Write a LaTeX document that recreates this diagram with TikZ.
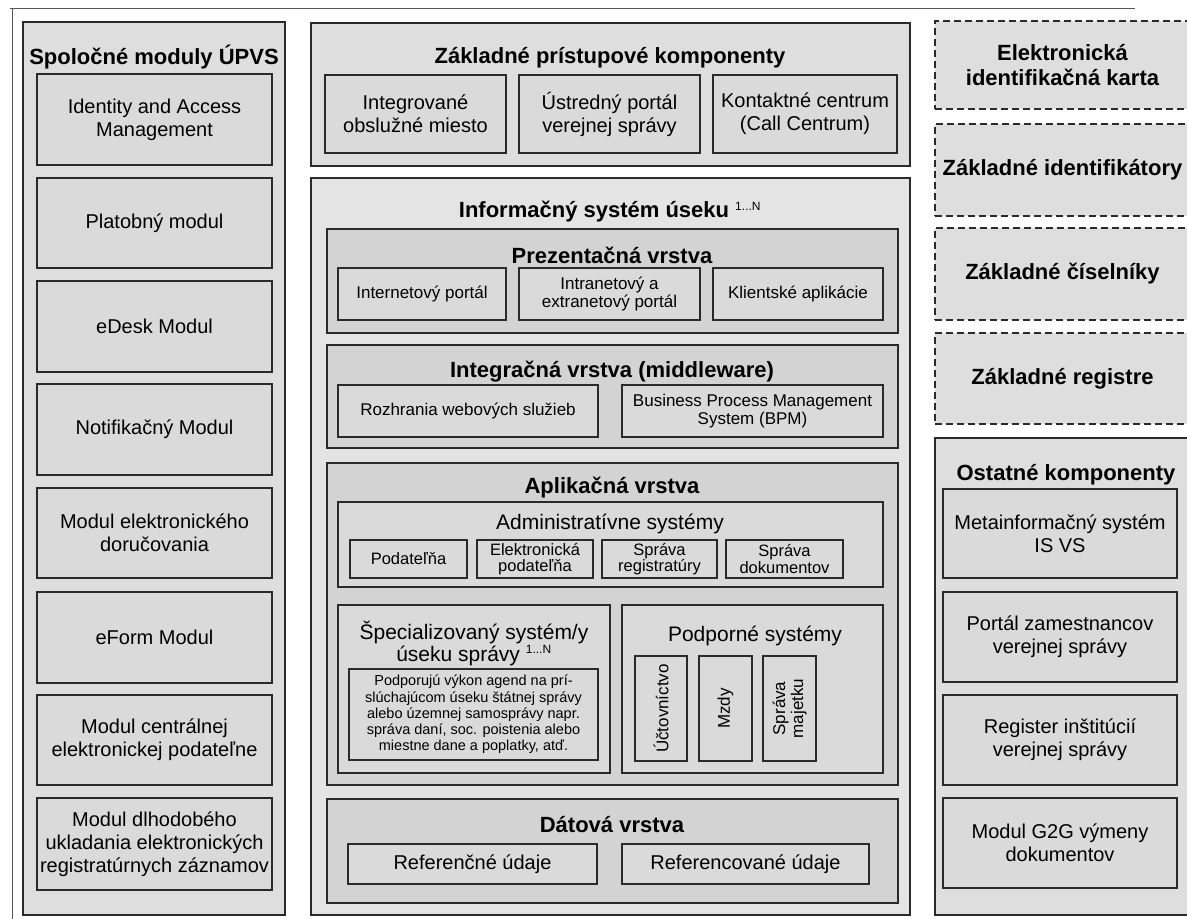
\documentclass[tikz,border=0pt]{standalone}
\usepackage{fontspec}
\setmainfont{Liberation Sans}
\definecolor{linec}{HTML}{2A2A2A}
\definecolor{panelc}{HTML}{DEDEDE}
\definecolor{infoc}{HTML}{E4E4E4}
\definecolor{layerc}{HTML}{D3D3D3}
\definecolor{boxc}{HTML}{DADADA}
\definecolor{framec}{HTML}{555555}
\tikzset{
  frame/.style={draw=linec, line width=1.3pt, inner sep=0pt, outer sep=0pt},
  panel/.style={frame, fill=panelc},
  infopanel/.style={frame, fill=infoc},
  layer/.style={frame, fill=layerc},
  grp/.style={frame, fill=boxc},
  box/.style={frame, fill=boxc, align=center, font=\fontsize{20}{23}\selectfont},
  sbox/.style={frame, fill=boxc, align=center, font=\fontsize{17}{18}\selectfont},
  abox/.style={frame, fill=boxc, align=center, font=\fontsize{16.5}{16.5}\selectfont},
  tbox/.style={frame, fill=boxc, align=center, font=\fontsize{14.5}{16.3}\selectfont},
  vbox/.style={frame, fill=boxc, align=center, rotate=90, font=\fontsize{17}{18}\selectfont},
  dbox/.style={frame, fill=panelc, dash pattern=on 7pt off 4pt, align=center,
    font=\bfseries\fontsize{22}{25}\selectfont},
  ttl/.style={font=\bfseries\fontsize{22}{24}\selectfont, inner sep=0pt, align=center},
  sttl/.style={font=\fontsize{21}{22}\selectfont, inner sep=0pt, align=center},
  edge/.style={draw=framec, line width=0.9pt},
}
\newcommand{\BX}[7]{\node[#2, minimum width={(#5)-(#3)}, minimum height={(#6)-(#4)}] (#1) at ({((#3)+(#5))/2},{((#4)+(#6))/2}) {#7};}
\newcommand{\supN}{\textsuperscript{\normalfont\fontsize{12}{12}\selectfont 1...N}}
\begin{document}
\begin{tikzpicture}[x=1pt,y=-1pt]
\clip (0,0) rectangle (1187,919);
\fill[white] (0,0) rectangle (1187,919);
% scan frame
\coordinate (fa) at (10,8);
\coordinate (fb) at (1135,8);
\coordinate (fc) at (12,8);
\coordinate (fd) at (12,919);
\draw[edge] (fa) -- (fb);
\draw[edge] (fc) -- (fd);

% ---------- left column ----------
\BX{L}{panel}{23}{22}{285}{915}{}
\node[ttl] (Lt) at (154,57) {Spoločné moduly ÚPVS};
\BX{L1}{box}{37}{74}{272}{165}{Identity and Access\\Management}
\BX{L2}{box}{37}{178}{272}{268}{Platobný modul}
\BX{L3}{box}{37}{281}{272}{372}{eDesk Modul}
\BX{L4}{box}{37}{384}{272}{475}{Notifikačný Modul}
\BX{L5}{box}{37}{488}{272}{578}{Modul elektronického\\doručovania}
\BX{L6}{box}{37}{592}{272}{683}{eForm Modul}
\BX{L7}{box}{37}{695}{272}{785}{Modul centrálnej\\elektronickej podateľne}
\BX{L8}{box}{37}{798}{272}{890}{Modul dlhodobého\\ukladania elektronických\\registratúrnych záznamov}

% ---------- centre: access components ----------
\BX{Z}{panel}{311}{23}{910}{166}{}
\node[ttl] (Zt) at (610,58) {Základné prístupové komponenty};
\BX{Z1}{box}{325}{75}{506}{153}{Integrované\\obslužné miesto}
\BX{Z2}{box}{519}{75}{700}{153}{Ústredný portál\\verejnej správy}
\BX{Z3}{box}{713}{75}{897}{153}{Kontaktné centrum\\(Call Centrum)}

% ---------- centre: information system ----------
\BX{IS}{infopanel}{311}{178}{910}{915}{}
\node[ttl] (ISt) at (610,212) {Informačný systém úseku \supN};

\BX{P}{layer}{327}{229}{898}{333}{}
\node[ttl] (Pt) at (612,255) {Prezentačná vrstva};
\BX{P1}{sbox}{338}{268}{506}{320}{Internetový portál}
\BX{P2}{sbox}{519}{268}{700}{320}{Intranetový a\\extranetový portál}
\BX{P3}{sbox}{713}{268}{883}{320}{Klientské aplikácie}

\BX{I}{layer}{327}{345}{898}{448}{}
\node[ttl] (It) at (612,372) {Integračná vrstva (middleware)};
\BX{I1}{sbox}{338}{385}{598}{437}{Rozhrania webových služieb}
\BX{I2}{sbox}{622}{385}{883}{437}{Business Process Management\\System (BPM)}

\BX{A}{layer}{327}{463}{898}{785}{}
\node[ttl] (At) at (612,488) {Aplikačná vrstva};
\BX{AD}{grp}{338}{502}{883}{587}{}
\node[sttl] (ADt) at (610,524) {Administratívne systémy};
\BX{A1}{abox}{350}{540}{467}{578}{Podateľňa}
\BX{A2}{abox}{477}{540}{593}{578}{Elektronická\\podateľňa}
\BX{A3}{abox}{602}{540}{717}{578}{Správa\\registratúry}
\BX{A4}{abox}{726}{540}{843}{578}{Správa\\dokumentov}

\BX{S}{grp}{338}{605}{610}{773}{}
\node[sttl] (St) at (474,643) {Špecializovaný systém/y\\úseku správy \supN};
\BX{S1}{tbox}{349}{669}{598}{760}{Podporujú výkon agend na prí-\\slúchajúcom úseku štátnej správy\\alebo územnej samosprávy napr.\\správa daní, soc. poistenia alebo\\miestne dane a poplatky, atď.}

\BX{SP}{grp}{622}{605}{883}{773}{}
\node[sttl] (SPt) at (755,636) {Podporné systémy};
\node[vbox, minimum width=105, minimum height=52] (V1) at (661,708.5) {Účtovníctvo};
\node[vbox, minimum width=105, minimum height=53] (V2) at (725.5,708.5) {Mzdy};
\node[vbox, minimum width=105, minimum height=53] (V3) at (789.5,708.5) {Správa\\majetku};

\BX{D}{layer}{327}{799}{898}{903}{}
\node[ttl] (Dt) at (612,825) {Dátová vrstva};
\BX{D1}{box}{348}{844}{597}{884}{Referenčné údaje}
\BX{D2}{box}{622}{844}{869}{884}{Referencované údaje}

% ---------- right column ----------
\BX{R1}{dbox}{935}{21}{1190}{109}{Elektronická\\identifikačná karta}
\BX{R2}{dbox}{935}{124}{1190}{216}{Základné identifikátory}
\BX{R3}{dbox}{935}{228}{1190}{320}{Základné číselníky}
\BX{R4}{dbox}{935}{333}{1190}{424}{Základné registre}

\BX{O}{panel}{935}{438}{1192}{915}{}
\node[ttl] (Ot) at (1066,475) {Ostatné komponenty};
\BX{O1}{box}{943}{489}{1177}{578}{Metainformačný systém\\IS VS}
\BX{O2}{box}{943}{592}{1177}{682}{Portál zamestnancov\\verejnej správy}
\BX{O3}{box}{943}{695}{1177}{785}{Register inštitúcií\\verejnej správy}
\BX{O4}{box}{943}{798}{1177}{888}{Modul G2G výmeny\\dokumentov}
\end{tikzpicture}
\end{document}
